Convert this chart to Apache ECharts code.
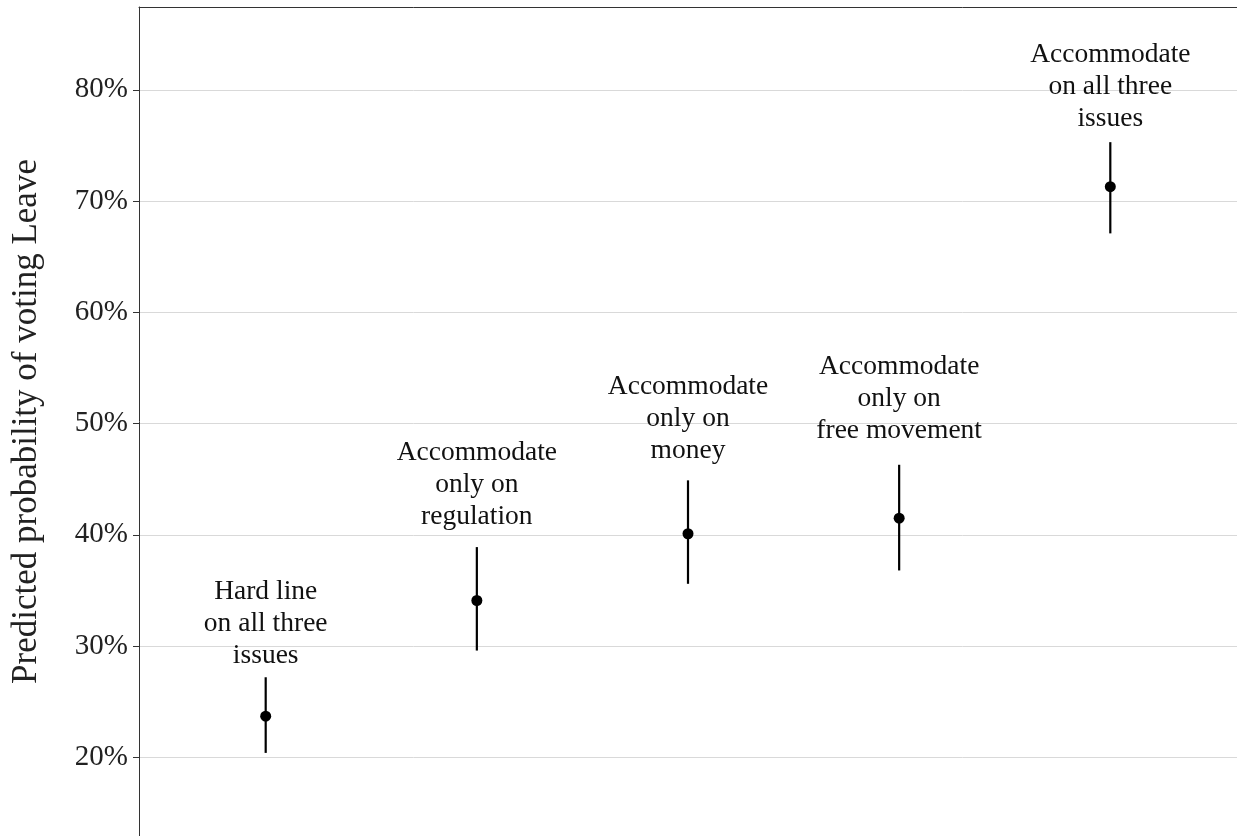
<!DOCTYPE html>
<html>
<head>
<meta charset="utf-8">
<script src="https://cdn.jsdelivr.net/npm/echarts@6/dist/echarts.min.js"></script>
<style>
  html, body { margin: 0; padding: 0; background: #fff; }
  #chart { width: 1237px; height: 836px; }
</style>
</head>
<body>
<div id="chart"></div>
<script>
// Negotiation scenarios and the predicted probability of voting Leave (with 95% intervals)
const scenarios = [
  'Hard line\non all three\nissues',
  'Accommodate\nonly on\nregulation',
  'Accommodate\nonly on\nmoney',
  'Accommodate\nonly on\nfree movement',
  'Accommodate\non all three\nissues'
];
const estimate = [0.237, 0.341, 0.401, 0.415, 0.713];
const lower    = [0.204, 0.296, 0.356, 0.368, 0.671];
const upper    = [0.272, 0.389, 0.449, 0.463, 0.753];
// vertical anchor (middle line) of each scenario's text annotation
const labelY   = [0.320, 0.445, 0.504, 0.522, 0.803];
const yTicks   = [0.2, 0.3, 0.4, 0.5, 0.6, 0.7, 0.8];

const serif = 'Liberation Serif';
const chart = echarts.init(document.getElementById('chart'), null, { renderer: 'canvas' });

chart.setOption({
  animation: false,
  backgroundColor: '#fff',
  grid: { left: 139, right: -3, top: 7, bottom: 0 },
  xAxis: {
    type: 'value',
    min: 0.4,
    max: 5.6,
    position: 'top',
    axisLine: { show: true, onZero: false, lineStyle: { color: '#333', width: 1 } },
    axisTick: { show: false },
    minorTick: { show: false },
    axisLabel: { show: false },
    splitLine: { show: false }
  },
  yAxis: {
    type: 'value',
    min: 0.1293,
    max: 0.8745,
    name: 'Predicted probability of voting Leave',
    nameLocation: 'middle',
    nameGap: 95,
    nameTextStyle: { fontFamily: serif, fontSize: 35, color: '#222' },
    axisLine: { show: true, onZero: false, lineStyle: { color: '#333', width: 1 } },
    axisTick: { show: true, length: 6, customValues: yTicks, lineStyle: { color: '#333' } },
    axisLabel: {
      customValues: yTicks,
      margin: 11,
      fontFamily: serif,
      fontSize: 29,
      color: '#222',
      formatter: v => Math.round(v * 100) + '%'
    },
    splitLine: { show: true, lineStyle: { color: '#d9d9d9', width: 1 } }
  },
  series: [
    {
      type: 'custom',
      name: 'interval',
      data: estimate.map((_, i) => [i + 1, lower[i], upper[i]]),
      encode: { x: 0, y: [1, 2] },
      renderItem: (params, api) => {
        const x = api.value(0);
        const p1 = api.coord([x, api.value(1)]);
        const p2 = api.coord([x, api.value(2)]);
        return {
          type: 'line',
          shape: { x1: p1[0], y1: p1[1], x2: p2[0], y2: p2[1] },
          style: { stroke: '#000', lineWidth: 2.2 }
        };
      },
      z: 2
    },
    {
      type: 'scatter',
      name: 'estimate',
      data: estimate.map((v, i) => [i + 1, v]),
      symbol: 'circle',
      symbolSize: 11,
      itemStyle: { color: '#000', opacity: 1 },
      z: 3
    },
    {
      type: 'scatter',
      name: 'annotation',
      data: scenarios.map((s, i) => ({ value: [i + 1, labelY[i]], name: s })),
      symbolSize: 1,
      itemStyle: { color: 'rgba(0,0,0,0)', opacity: 1 },
      silent: true,
      label: {
        show: true,
        position: 'inside',
        formatter: '{b}',
        fontFamily: serif,
        fontSize: 27.5,
        lineHeight: 32,
        color: '#111',
        align: 'center',
        verticalAlign: 'middle'
      },
      z: 4
    }
  ]
});
</script>
</body>
</html>
